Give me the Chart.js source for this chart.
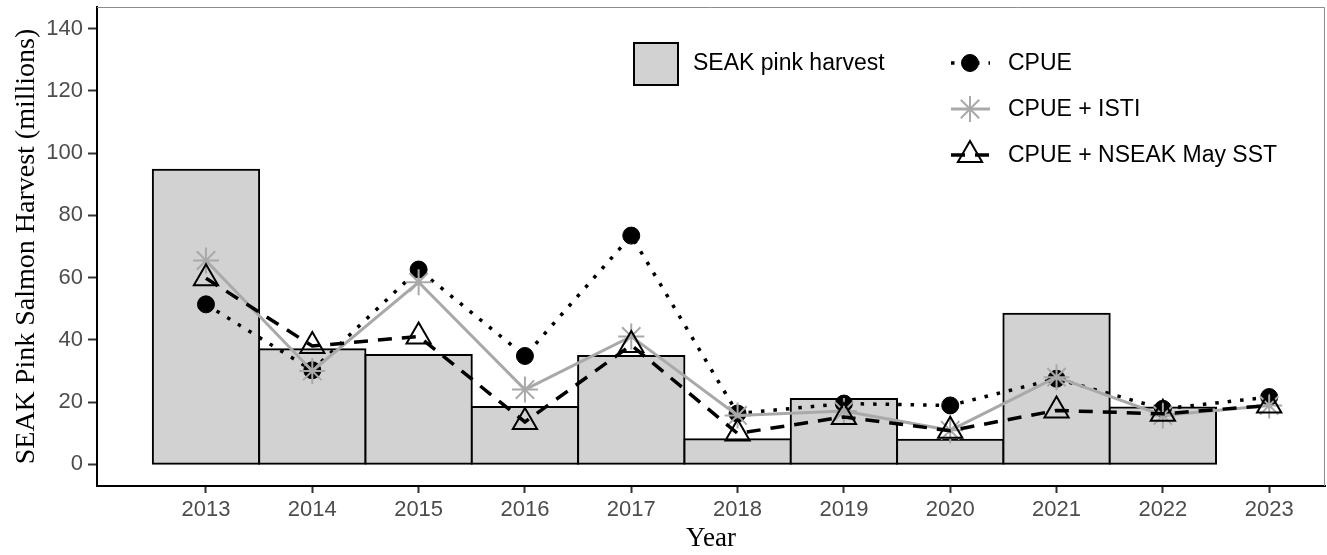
<!DOCTYPE html>
<html>
<head>
<meta charset="utf-8">
<script src="https://cdn.jsdelivr.net/npm/chart.js@4.4.1/dist/chart.umd.min.js"></script>
<style>
  html, body { margin: 0; padding: 0; background: #fff; }
  #wrap { width: 1327px; height: 555px; }
</style>
</head>
<body>
<div id="wrap"><canvas id="chart" width="1327" height="555"></canvas></div>
<script>
const years = [2013, 2014, 2015, 2016, 2017, 2018, 2019, 2020, 2021, 2022, 2023];
const harvestYears = [2013, 2014, 2015, 2016, 2017, 2018, 2019, 2020, 2021, 2022];
const harvest = [94.7, 37.0, 35.1, 18.4, 34.8, 8.0, 21.0, 7.9, 48.4, 18.2];
const cpue = [51.4, 30.2, 62.6, 34.8, 73.5, 16.3, 19.5, 18.9, 27.5, 17.8, 21.6];
const cpueIsti = [65.5, 30.0, 58.5, 24.0, 41.1, 15.7, 17.1, 10.9, 28.0, 15.7, 18.9];
const cpueSst = [59.8, 38.0, 41.1, 13.6, 38.3, 9.9, 15.2, 10.8, 17.3, 16.2, 18.9];
const yTicks = [0, 20, 40, 60, 80, 100, 120, 140];

const toPoints = (xs, ys) => xs.map((x, i) => ({ x: x, y: ys[i] }));

// panel border (top/right) and the ggplot-style legend inside the panel
const extras = {
  id: 'extras',
  afterDraw(chart) {
    const { ctx, chartArea: a } = chart;
    ctx.save();
    ctx.strokeStyle = '#8c8c8c';
    ctx.lineWidth = 1;
    ctx.beginPath();
    ctx.moveTo(a.left, a.top + 0.5);
    ctx.lineTo(a.right - 0.5, a.top + 0.5);
    ctx.lineTo(a.right - 0.5, a.bottom);
    ctx.stroke();

    const ds = chart.data.datasets;
    ctx.font = '23px "Liberation Sans", Arial, sans-serif';
    ctx.textBaseline = 'middle';

    // bar key
    const bar = ds[0];
    ctx.fillStyle = bar.backgroundColor;
    ctx.fillRect(634, 43, 44, 42);
    ctx.strokeStyle = '#000';
    ctx.lineWidth = 2;
    ctx.strokeRect(634, 43, 44, 42);
    ctx.fillStyle = '#000';
    ctx.fillText(bar.label, 693, 64);

    // line keys
    const rows = [ds[1], ds[2], ds[3]];
    const rowY = [63, 109, 155];
    rows.forEach((d, i) => {
      const y = rowY[i];
      ctx.save();
      ctx.strokeStyle = d.borderColor;
      ctx.lineWidth = d.borderWidth;
      ctx.setLineDash(d.borderDash || []);
      ctx.beginPath();
      ctx.moveTo(951, y);
      ctx.lineTo(990, y);
      ctx.stroke();
      ctx.restore();
      ctx.save();
      ctx.fillStyle = d.pointBackgroundColor;
      ctx.strokeStyle = d.pointBorderColor;
      ctx.lineWidth = d.pointBorderWidth;
      Chart.helpers.drawPoint(ctx, { pointStyle: d.pointStyle, radius: d.pointRadius, borderWidth: d.pointBorderWidth, rotation: 0 }, 970, y);
      ctx.restore();
      ctx.fillStyle = '#000';
      ctx.fillText(d.label, 1008, y + 1);
    });
    ctx.restore();
  }
};

new Chart(document.getElementById('chart'), {
  data: {
    datasets: [
      {
        type: 'bar',
        label: 'SEAK pink harvest',
        data: toPoints(harvestYears, harvest),
        backgroundColor: '#d2d2d2',
        borderColor: '#000',
        borderWidth: 2,
        borderSkipped: false,
        inflateAmount: 1,
        barPercentage: 1,
        categoryPercentage: 1,
        order: 4
      },
      {
        type: 'line',
        label: 'CPUE',
        data: toPoints(years, cpue),
        borderColor: '#000',
        borderWidth: 3.5,
        borderDash: [3.5, 9],
        pointStyle: 'circle',
        pointRadius: 8.5,
        pointBackgroundColor: '#000',
        pointBorderColor: '#000',
        pointBorderWidth: 1,
        order: 3
      },
      {
        type: 'line',
        label: 'CPUE + ISTI',
        data: toPoints(years, cpueIsti),
        borderColor: '#a9a9a9',
        borderWidth: 3,
        pointStyle: 'star',
        pointRadius: 13,
        pointBackgroundColor: '#a9a9a9',
        pointBorderColor: '#a9a9a9',
        pointBorderWidth: 2,
        order: 2
      },
      {
        type: 'line',
        label: 'CPUE + NSEAK May SST',
        data: toPoints(years, cpueSst),
        borderColor: '#000',
        borderWidth: 3.5,
        borderDash: [14, 10],
        pointStyle: 'triangle',
        pointRadius: 14,
        pointBackgroundColor: 'rgba(0,0,0,0)',
        pointBorderColor: '#000',
        pointBorderWidth: 2,
        order: 1
      }
    ]
  },
  options: {
    responsive: false,
    animation: false,
    devicePixelRatio: 1,
    layout: { autoPadding: false, padding: { left: 0, right: 2, top: 7, bottom: 0 } },
    plugins: { legend: { display: false }, tooltip: { enabled: false } },
    scales: {
      x: {
        type: 'linear',
        offset: false,
        min: 2011.975,
        max: 2023.525,
        afterBuildTicks: (scale) => { scale.ticks = years.map(v => ({ value: v })); },
        afterFit: (scale) => {
          scale.height = 69;
          scale.paddingLeft = 0;
          scale.paddingRight = 0;
        },
        border: { display: true, color: '#000', width: 2 },
        grid: { offset: false, drawOnChartArea: false, drawTicks: true, tickLength: 7, tickColor: '#333', tickWidth: 2 },
        ticks: {
          autoSkip: false,
          maxRotation: 0,
          padding: 4,
          color: '#4d4d4d',
          font: { family: '"Liberation Sans", Arial, sans-serif', size: 22 },
          callback: (v) => String(v)
        },
        title: {
          display: true,
          text: 'Year',
          color: '#000',
          font: { family: '"Liberation Serif", "Times New Roman", serif', size: 27 },
          padding: { top: 0, bottom: 0 }
        }
      },
      y: {
        type: 'linear',
        min: -7,
        max: 147,
        afterBuildTicks: (scale) => { scale.ticks = yTicks.map(v => ({ value: v })); },
        afterFit: (scale) => {
          scale.width = 97;
          scale.paddingTop = 0;
          scale.paddingBottom = 0;
        },
        border: { display: true, color: '#000', width: 2 },
        grid: { drawOnChartArea: false, drawTicks: true, tickLength: 9, tickColor: '#333', tickWidth: 2 },
        ticks: {
          padding: 5,
          color: '#4d4d4d',
          font: { family: '"Liberation Sans", Arial, sans-serif', size: 22 }
        },
        title: {
          display: true,
          text: 'SEAK Pink Salmon Harvest (millions)',
          color: '#000',
          font: { family: '"Liberation Serif", "Times New Roman", serif', size: 28 },
          padding: { top: 10, bottom: 0 }
        }
      }
    }
  },
  plugins: [extras]
});
</script>
</body>
</html>
